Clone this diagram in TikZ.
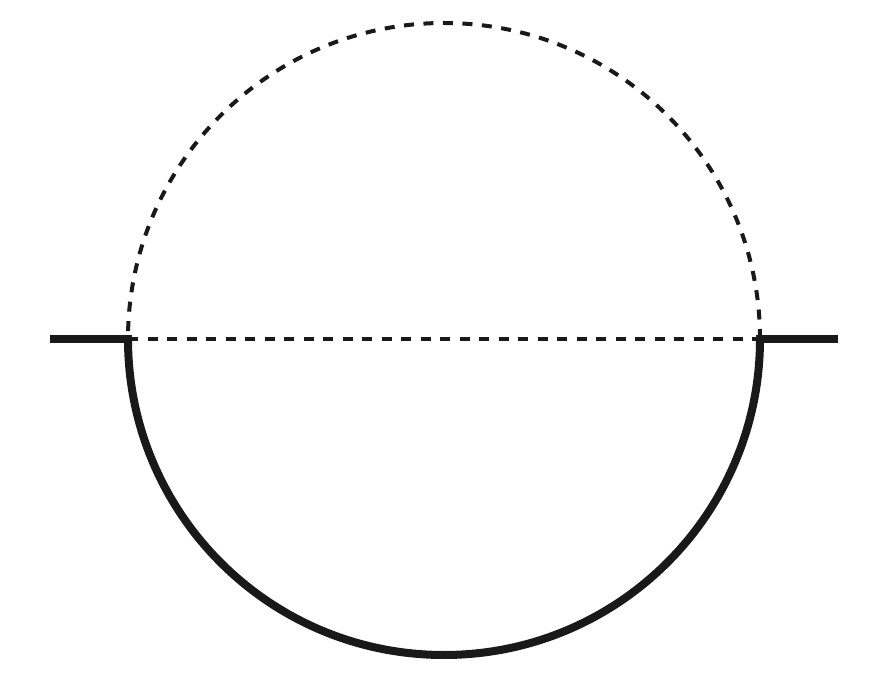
\documentclass[tikz,border=0pt]{standalone}
\begin{document}
\begin{tikzpicture}[x=1pt, y=1pt, solidline/.style={line width=8pt, color=black!90}, dashline/.style={line width=4pt, color=black!90, dash pattern=on 10pt off 9.5pt}]
\useasboundingbox (0,0) rectangle (872,680);
\coordinate (L) at (128,341);
\coordinate (R) at (760,341);
\coordinate (Lend) at (50,341);
\coordinate (Rend) at (838,341);
 \draw[dashline] (R) arc[start angle=0, end angle=180, radius=316];
 \draw[dashline] (L) -- (R);
\draw[solidline] (L) arc[start angle=180, end angle=360, radius=316];
\draw[solidline] (Lend) -- ([xshift=4pt]L);
\draw[solidline] ([xshift=-4pt]R) -- (Rend);
\end{tikzpicture}
\end{document}
